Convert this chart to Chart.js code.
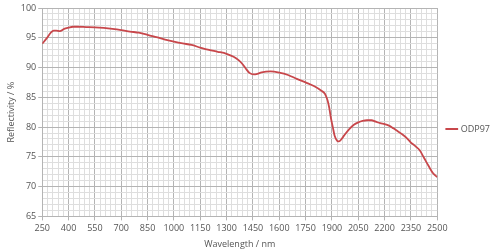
<!DOCTYPE html>
<html>
<head>
<meta charset="utf-8">
<script src="https://cdn.jsdelivr.net/npm/chart.js@4"></script>
<style>
html,body{margin:0;padding:0;background:#fff;}
#c{display:block;}
</style>
</head>
<body>
<canvas id="c" width="500" height="250"></canvas>
<script>
const wavelengths = [250,275,300,315,330,350,375,400,425,450,500,550,600,650,700,750,800,850,900,950,1000,1050,1100,1150,1200,1250,1300,1340,1370,1390,1410,1430,1455,1475,1500,1550,1600,1650,1700,1750,1800,1840,1860,1875,1885,1895,1905,1915,1930,1940,1955,1970,2000,2025,2050,2075,2100,2125,2150,2175,2200,2225,2250,2275,2300,2325,2350,2375,2400,2425,2450,2475,2500];
const reflectivity = [94.0,94.9,95.9,96.2,96.2,96.1,96.5,96.7,96.85,96.85,96.8,96.75,96.65,96.5,96.3,96.05,95.85,95.5,95.1,94.7,94.35,94.05,93.8,93.35,92.95,92.65,92.3,91.8,91.2,90.6,89.8,89.1,88.85,88.95,89.2,89.35,89.15,88.75,88.1,87.5,86.85,86.1,85.6,84.5,83.2,81.4,80.0,78.6,77.7,77.6,78.0,78.6,79.7,80.4,80.8,81.05,81.15,81.15,80.9,80.65,80.5,80.25,79.8,79.3,78.8,78.2,77.4,76.8,76.1,74.8,73.5,72.3,71.6];
const seriesName = 'ODP97';
const xTicks = []; for (let v = 250; v <= 2500; v += 30) xTicks.push(v);
const xLabels = []; for (let v = 250; v <= 2500; v += 150) xLabels.push(v);
const yTicks = []; for (let v = 65; v <= 100; v += 1) yTicks.push(v);
const yLabels = [65,70,75,80,85,90,95,100];

const MAJOR = '#b4b4b4', MINOR = '#dedede', TXT = '#555';
const FONT = {family: '"Open Sans", sans-serif', size: 9};

new Chart(document.getElementById('c'), {
  type: 'line',
  data: {
    datasets: [{
      label: seriesName,
      data: wavelengths.map((w, i) => ({x: w, y: reflectivity[i]})),
      borderColor: '#c8474b',
      backgroundColor: '#c8474b',
      borderWidth: 1.8,
      pointRadius: 0,
      tension: 0.4,
      cubicInterpolationMode: 'monotone'
    }]
  },
  options: {
    responsive: false,
    animation: false,
    devicePixelRatio: 1,
    layout: {padding: {top: 8, right: 0, left: 0, bottom: 0}},
    plugins: {
      legend: {
        position: 'right',
        labels: {
          usePointStyle: true,
          pointStyle: 'line',
          boxWidth: 15,
          color: TXT,
          font: FONT,
          padding: 10
        }
      },
      tooltip: {enabled: false}
    },
    scales: {
      x: {
        type: 'linear',
        min: 250, max: 2500,
        afterBuildTicks: s => { s.ticks = xTicks.map(v => ({value: v})); },
        ticks: {
          autoSkip: false, maxRotation: 0, color: TXT, font: FONT, padding: 3,
          callback: v => xLabels.includes(v) ? String(v) : ''
        },
        grid: {
          color: c => xLabels.includes(c.tick && c.tick.value) ? MAJOR : MINOR,
          tickColor: c => xLabels.includes(c.tick && c.tick.value) ? MAJOR : 'rgba(0,0,0,0)',
          tickLength: 4,
          lineWidth: 1
        },
        border: {color: MAJOR},
        title: {display: true, text: 'Wavelength / nm', color: TXT, font: FONT, padding: {top: 2, bottom: 0}}
      },
      y: {
        min: 65, max: 100,
        afterBuildTicks: s => { s.ticks = yTicks.map(v => ({value: v})); },
        ticks: {
          autoSkip: false, color: TXT, font: FONT, padding: 2,
          callback: v => yLabels.includes(v) ? String(v) : ''
        },
        grid: {
          color: c => yLabels.includes(c.tick && c.tick.value) ? MAJOR : MINOR,
          tickColor: c => yLabels.includes(c.tick && c.tick.value) ? MAJOR : 'rgba(0,0,0,0)',
          tickLength: 4,
          lineWidth: 1
        },
        border: {color: MAJOR},
        title: {display: true, text: 'Reflectivity / %', color: TXT, font: FONT, padding: {top: 6, bottom: 2}}
      }
    }
  }
});
</script>
</body>
</html>
